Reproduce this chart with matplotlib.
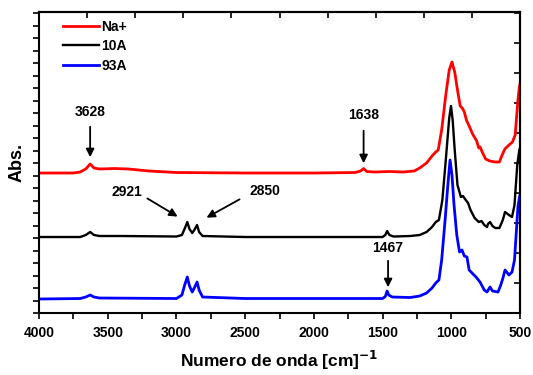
import matplotlib
matplotlib.use("Agg")
import matplotlib.pyplot as plt
from matplotlib.ticker import MultipleLocator

plt.rcParams['font.family'] = ['Liberation Sans', 'DejaVu Sans']
plt.rcParams['font.weight'] = 'bold'

# wavenumber [cm-1] / absorbance (arbitrary units, curves offset)
wn_na = [4000, 3750, 3700, 3660, 3628, 3600, 3560, 3450, 3350, 3200, 3000, 2500, 2000, 1700,
         1660, 1638, 1615, 1560, 1450, 1350, 1270, 1230, 1180, 1140, 1113, 1095, 1070, 1040,
         1015, 995, 975, 955, 935, 920, 905, 890, 870, 845, 815, 800, 790, 775, 750, 720,
         680, 650, 630, 610, 580, 555, 535, 515, 505, 500]
abs_na = [140, 140, 141, 144, 149, 145, 144, 144.5, 144, 142, 140.5, 140, 140, 140.5,
          142, 144.5, 141.5, 141, 141.5, 141, 142, 145, 150, 157, 161, 163, 183, 218,
          243, 251, 241, 223, 207, 205, 201, 193, 187, 179, 172, 165, 166, 161, 154, 152,
          151, 151, 158, 164, 168, 171, 178, 213, 226, 229]

wn_10a = [4000, 3700, 3660, 3628, 3600, 3560, 3400, 3000, 2960, 2935, 2921, 2905, 2885, 2870,
          2850, 2835, 2810, 2500, 1500, 1480, 1467, 1450, 1420, 1300, 1230, 1180, 1140, 1113,
          1090, 1065, 1040, 1015, 1002, 990, 975, 955, 930, 915, 900, 878, 860, 830, 800,
          780, 760, 740, 733, 718, 700, 680, 650, 625, 609, 580, 558, 540, 520, 505, 500]
abs_10a = [76, 76, 78, 81, 78, 77, 77, 76.5, 78, 86, 91, 84, 80, 83,
           88, 81, 77, 76, 76, 78, 82, 78, 76.5, 77, 78, 81, 86, 91,
           93, 113, 153, 195, 207, 193, 163, 128, 116, 117, 114, 110, 103, 95, 91,
           92, 88, 86, 89, 91, 87, 85, 85, 93, 101, 98, 96, 108, 148, 163, 165]

wn_93a = [4000, 3700, 3660, 3628, 3600, 3560, 3000, 2960, 2940, 2921, 2905, 2885, 2870, 2850,
          2835, 2810, 2500, 1500, 1480, 1467, 1455, 1430, 1300, 1230, 1180, 1140, 1113, 1090,
          1070, 1045, 1025, 1009, 995, 980, 960, 940, 922, 905, 886, 870, 849, 820, 791,
          760, 740, 718, 700, 660, 640, 624, 609, 580, 558, 540, 515, 505, 500]
abs_93a = [14, 14.5, 16, 18, 16, 15, 14.5, 18, 28, 36, 27, 21, 25, 31,
           23, 16, 14.5, 14.5, 16.5, 22, 18, 16, 15.5, 17, 20, 25, 30, 33,
           53, 93, 128, 153, 138, 108, 78, 61, 63, 57, 56, 43, 40, 36, 31,
           23, 21, 26, 22, 21, 28, 35, 43, 38, 41, 53, 106, 115, 118]

fig = plt.figure(figsize=(5.33, 3.75), dpi=100)
ax = fig.add_axes([0.0732, 0.1653, 0.9024, 0.8027])

ax.plot(wn_na, abs_na, color='red', lw=2.0, label='Na+')
ax.plot(wn_10a, abs_10a, color='black', lw=1.7, label='10A')
ax.plot(wn_93a, abs_93a, color='blue', lw=2.0, label='93A')

ax.set_xlim(4000, 500)
ax.set_ylim(0, 301)

ax.xaxis.set_major_locator(MultipleLocator(500))
ax.xaxis.set_minor_locator(MultipleLocator(250))
ax.yaxis.set_major_locator(MultipleLocator(12.5))
ax.set_yticklabels([])
ax.tick_params(axis='x', which='both', direction='out', length=4.5, width=1.2,
               labelsize=10, pad=5)
ax.tick_params(axis='y', which='major', direction='out', length=4.5, width=1.2)
for s in ax.spines.values():
    s.set_linewidth(1.5)

# top and right ticks (inward, different spacing)
top = ax.secondary_xaxis('top')
top.set_xticks([4000 - 350 * i for i in range(11)])
top.tick_params(direction='in', length=4, width=1.2, labeltop=False)
top.spines['top'].set_linewidth(1.5)
right = ax.secondary_yaxis('right')
right.set_yticks([30 * i for i in range(11)])
right.tick_params(direction='in', length=4, width=1.2, labelright=False)
right.spines['right'].set_linewidth(1.5)

ax.set_xlabel('Numero de onda [cm]$^{\\mathbf{-1}}$', fontsize=12.5, fontweight='bold', labelpad=6)
ax.set_ylabel('Abs.', fontsize=13, fontweight='bold', labelpad=2)

arr = dict(arrowstyle='-|>', color='black', lw=1.3, mutation_scale=12)
ax.annotate('', xy=(3628, 153), xytext=(3628, 189), arrowprops=arr)
ax.text(3628, 201, '3628', ha='center', va='center', fontsize=10, fontweight='bold')
ax.annotate('', xy=(1638, 147), xytext=(1638, 185), arrowprops=arr)
ax.text(1638, 198, '1638', ha='center', va='center', fontsize=10, fontweight='bold')
ax.annotate('', xy=(2974, 95), xytext=(3229, 116), arrowprops=arr)
ax.text(3360, 121, '2921', ha='center', va='center', fontsize=10, fontweight='bold')
ax.annotate('', xy=(2799, 94), xytext=(2523, 115), arrowprops=arr)
ax.text(2356, 122, '2850', ha='center', va='center', fontsize=10, fontweight='bold')
ax.annotate('', xy=(1460, 23), xytext=(1460, 55), arrowprops=arr)
ax.text(1460, 65, '1467', ha='center', va='center', fontsize=10, fontweight='bold')

ax.legend(loc='upper left', bbox_to_anchor=(0.05, 0.975), frameon=False, fontsize=10,
          handlelength=2.6, handletextpad=0.15, labelspacing=0.42, borderaxespad=0,
          borderpad=0)

fig.savefig('out.png', dpi=100)
